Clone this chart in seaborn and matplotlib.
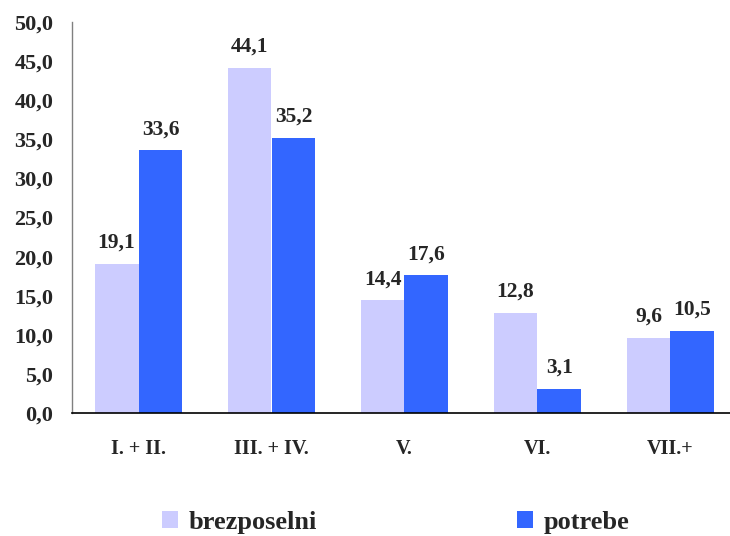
import matplotlib
matplotlib.use("Agg")
import matplotlib.pyplot as plt
from matplotlib.ticker import FuncFormatter
from matplotlib.patches import Patch
import seaborn as sns
import pandas as pd

# Education levels and shares (%) for the two series
categories = ['I. + II.', 'III. + IV.', 'V.', 'VI.', 'VII.+']
brezposelni = [19.1, 44.1, 14.4, 12.8, 9.6]
potrebe = [33.6, 35.2, 17.6, 3.1, 10.5]
series_names = ['brezposelni', 'potrebe']
colors = ['#CCCCFF', '#3366FF']

df = pd.DataFrame({
    'kategorija': categories * 2,
    'vrednost': brezposelni + potrebe,
    'serija': [series_names[0]] * len(categories) + [series_names[1]] * len(categories),
})

sns.set_style('white')
plt.rcParams['font.family'] = ['Liberation Serif', 'DejaVu Serif']
plt.rcParams['font.weight'] = 'bold'


def comma(v, pos=None):
    return f"{v:.1f}".replace('.', ',')


fig = plt.figure(figsize=(7.3, 5.36), dpi=100)
ax = fig.add_axes([72 / 730, 1 - 413 / 536, 665 / 730, 391 / 536])

sns.barplot(data=df, x='kategorija', y='vrednost', hue='serija',
            palette=colors, width=0.66, saturation=1, linewidth=0,
            ax=ax, legend=False)

for cont in ax.containers:
    ax.bar_label(cont, fmt=comma, padding=8, fontsize=15.5, fontweight='bold')

ax.set_xlim(-0.5, len(categories) - 0.5)
ax.set_ylim(0, 50)
ax.set_yticks(range(0, 51, 5))
ax.yaxis.set_major_formatter(FuncFormatter(comma))
ax.set_xlabel('')
ax.set_ylabel('')

# ticks on category boundaries, labels at category centres
ax.set_xticks([i - 0.5 for i in range(len(categories) + 1)])
ax.set_xticklabels([])
ax.set_xticks(range(len(categories)), minor=True)
ax.set_xticklabels(categories, minor=True, fontsize=14.5, fontweight='bold')
ax.tick_params(axis='x', which='minor', length=0, pad=19)
ax.tick_params(axis='x', which='major', length=6, width=1, color='#808080', direction='out')
ax.tick_params(axis='y', length=7, width=1, color='#808080', direction='out', pad=6.5,
               labelsize=16)
for lab in ax.get_yticklabels():
    lab.set_fontweight('bold')

sns.despine(ax=ax, top=True, right=True)
ax.spines['left'].set_color('#808080')
ax.spines['bottom'].set_color('black')
ax.spines['left'].set_linewidth(1)
ax.spines['bottom'].set_linewidth(1.2)

handles = [Patch(facecolor=c, edgecolor='none') for c in colors]
fig.legend(handles, series_names, loc='center left', bbox_to_anchor=(162 / 730, 1 - 522 / 536),
           ncol=2, frameon=False, borderpad=0, borderaxespad=0, handlelength=0.6,
           handleheight=0.64, handletextpad=0.4, columnspacing=7.6,
           prop={'family': 'Liberation Serif', 'weight': 'bold', 'size': 19})

fig.savefig('out.png', dpi=100)
